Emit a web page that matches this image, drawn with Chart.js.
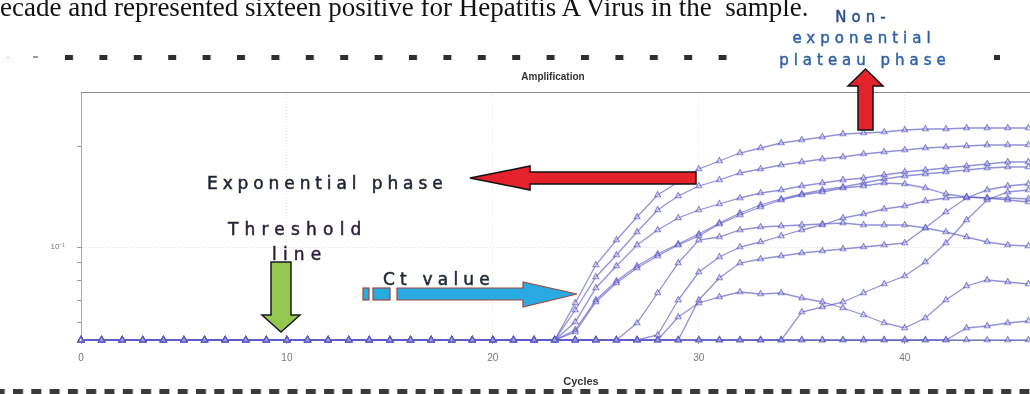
<!DOCTYPE html>
<html lang="en">
<head>
<meta charset="UTF-8">
<title>Amplification</title>
<style>
  html, body { margin: 0; padding: 0; background: #fff; overflow: hidden; }
  #wrap { position: relative; width: 1030px; height: 394px; overflow: hidden; }
  #chart { position: absolute; left: 0; top: 0; }
  #notes { position: absolute; left: 0; top: 0; pointer-events: none; }
  .note { font-family: "DejaVu Sans", sans-serif; }
</style>
</head>
<body>
<div id="wrap">
  <canvas id="chart" width="1054" height="394"></canvas>
  <svg id="notes" width="1030" height="394" viewBox="0 0 1030 394">
    <defs>
      <pattern id="dashTop" x="65" y="55" width="34.4" height="5" patternUnits="userSpaceOnUse">
        <rect width="8" height="5" fill="#2e2e2e"/>
      </pattern>
      <pattern id="dashBottom" x="13" y="389" width="18.3" height="5" patternUnits="userSpaceOnUse">
        <rect width="10" height="5" fill="#3a3a3a"/>
      </pattern>
    </defs>

    <!-- page text cut by the crop -->
    <text x="0" y="16" font-family="Liberation Serif, serif" font-size="27" fill="#111" style="white-space:pre">ecade and represented sixteen positive for Hepatitis A Virus in the  sample.</text>

    <!-- dashed crop lines -->
    <rect x="7" y="57" width="2" height="1" fill="#bbb"/>
    <rect x="33" y="56" width="5" height="2" fill="#999"/>
    <rect x="65" y="55" width="665" height="5" fill="url(#dashTop)"/>
    <rect x="994" y="55" width="6" height="5" fill="#2e2e2e"/>
    <rect x="0" y="389" width="1030" height="5" fill="url(#dashBottom)"/>

    <!-- exponential phase -->
    <polygon points="470,178 530,166 530,172 696,172 696,184 530,184 530,190" fill="#e4222b" stroke="#111" stroke-width="1.5" stroke-linejoin="miter"/>
    <text class="note" x="207" y="189" font-size="17" letter-spacing="4.9" fill="#1f2335" stroke="#1f2335" stroke-width="0.5">Exponential phase</text>

    <!-- plateau phase -->
    <polygon points="865.5,69 883,86 873,86 873,130 858,130 858,86 848,86" fill="#e4222b" stroke="#111" stroke-width="1.5"/>
    <text class="note" x="863" y="22" font-size="15" letter-spacing="5" text-anchor="middle" fill="#2d4f8a" stroke="#2d4f8a" stroke-width="0.45">Non-</text>
    <text class="note" x="864" y="43" font-size="15" letter-spacing="5" text-anchor="middle" fill="#2f62a8" stroke="#2f62a8" stroke-width="0.45">exponential</text>
    <text class="note" x="865" y="65" font-size="15" letter-spacing="5" text-anchor="middle" fill="#2f62a8" stroke="#2f62a8" stroke-width="0.45">plateau phase</text>

    <!-- threshold line -->
    <polygon points="271,262 291,262 291,315 300,315 281,332 262,315 271,315" fill="#92c84f" stroke="#1a1a1a" stroke-width="1.5"/>
    <text class="note" x="228" y="235" font-size="17" letter-spacing="6.2" fill="#2b1f38" stroke="#2b1f38" stroke-width="0.5">Threshold</text>
    <text class="note" x="272" y="260" font-size="17" letter-spacing="6.2" fill="#2b1f38" stroke="#2b1f38" stroke-width="0.5">line</text>

    <!-- Ct value -->
    <rect x="363" y="288" width="6" height="12" fill="#29abe2" stroke="#a0463c" stroke-width="1.2"/>
    <rect x="373" y="288" width="17" height="12" fill="#29abe2" stroke="#a0463c" stroke-width="1.2"/>
    <polygon points="397,288 523,288 523,282 577,294 523,307 523,300 397,300" fill="#29abe2" stroke="#a0463c" stroke-width="1.2"/>
    <text class="note" x="383" y="285" font-size="17" letter-spacing="5.2" fill="#222a35" stroke="#222a35" stroke-width="0.5">Ct value</text>
  </svg>
</div>

<script src="https://cdn.jsdelivr.net/npm/chart.js"></script>
<script>
  // RFU (arbitrary units above the baseline), one value per cycle
  // starting at the cycle where the curve leaves the baseline
  const lastCycle = 46;
  const baselineRfu = 0;

  const rfuA = [0, 37, 75, 100, 123, 145, 158, 171, 179, 187, 192, 197, 200, 203, 206, 207, 208, 210, 211, 211, 212, 212, 212, 212];
  const rfuB = [0, 30, 63, 85, 108, 130, 144, 154, 160, 167, 171, 175, 178, 181, 183, 186, 188, 190, 192, 193, 194, 195, 195, 195];
  const rfuC = [0, 18, 52, 74, 95, 110, 122, 130, 136, 142, 147, 150, 154, 157, 160, 162, 165, 168, 170, 172, 174, 176, 178, 178];
  const rfuD = [0, 8, 38, 57, 72, 84, 95, 104, 116, 125, 133, 140, 145, 148, 152, 154, 157, 156, 152, 146, 143, 142, 142, 141];
  const rfuE = [0, 10, 40, 59, 74, 86, 96, 106, 117, 127, 135, 141, 146, 150, 153, 157, 161, 164, 166, 168, 170, 172, 173, 173];
  const rfuF = [0, 17, 47, 77, 100, 103, 110, 113, 114, 115, 116, 117, 115, 115, 115, 112, 108, 103, 98, 95, 94];
  const rfuG = [0, 5, 40, 68, 83, 93, 98, 104, 110, 115, 122, 126, 131, 134, 139, 142, 143, 142, 140, 138];
  const rfuH = [0, 40, 62, 77, 81, 84, 87, 89, 91, 93, 95, 97, 112, 128, 142, 150, 154, 156];
  const rfuJ = [0, 23, 37, 43, 48, 46, 47, 42, 38, 32, 25, 17, 12, 22, 40, 54, 60, 58, 56];
  const rfuK = [0, 28, 33, 38, 47, 56, 64, 78, 97, 120, 140, 148, 150];
  const rfuL = [0, 12, 14, 17, 19];
  const rfuNeg = [];

  const samples = [rfuA, rfuB, rfuC, rfuD, rfuE, rfuF, rfuG, rfuH, rfuJ, rfuK, rfuL, rfuNeg];
  const riseCycle = [23, 23, 23, 23, 23, 26, 27, 29, 28, 34, 42, 47];

  const xTicks = [0, 10, 20, 30, 40];
  const yTicks = [18, 40, 60, 78, 93, 194];
  const yLabelled = 93;
  const yLabel = '10⁻¹';

  function seriesPoints(start, values) {
    const pts = [];
    for (let c = 0; c < start && c <= lastCycle; c++) pts.push({ x: c, y: baselineRfu });
    values.forEach((v, i) => pts.push({ x: start + i, y: v }));
    return pts;
  }

  const datasets = samples.map((vals, i) => ({
    data: seriesPoints(riseCycle[i], vals),
    borderColor: 'rgba(95,95,200,0.68)',
    borderWidth: 1.3,
    pointStyle: 'triangle',
    pointRadius: 3.4,
    pointBorderWidth: 1.1,
    pointBorderColor: 'rgba(85,85,195,0.7)',
    pointBackgroundColor: 'rgba(255,255,255,0.25)',
    tension: 0,
    clip: 6
  }));

  const frame = {
    id: 'frame',
    afterDraw(c) {
      const { ctx, chartArea: a } = c;
      ctx.save();
      ctx.strokeStyle = '#8a8a8a';
      ctx.lineWidth = 1.2;
      ctx.beginPath();
      ctx.moveTo(a.left, a.top + 0.5);
      ctx.lineTo(a.right, a.top + 0.5);
      ctx.stroke();
      ctx.fillStyle = '#333';
      ctx.textAlign = 'center';
      ctx.font = 'bold 10px "Liberation Sans", Arial, sans-serif';
      ctx.fillText('Amplification', 553, 80);
      ctx.font = 'bold 11px "Liberation Sans", Arial, sans-serif';
      ctx.fillText('Cycles', 581, 385);
      ctx.restore();
    }
  };

  new Chart(document.getElementById('chart'), {
    type: 'line',
    data: { datasets },
    options: {
      responsive: false,
      animation: false,
      layout: { padding: { top: 92, left: 0, right: 0, bottom: 0 } },
      plugins: { legend: { display: false }, tooltip: { enabled: false }, title: { display: false } },
      scales: {
        x: {
          type: 'linear',
          min: 0,
          max: 47,
          afterFit(s) { s.height = 54; },
          afterBuildTicks(s) { s.ticks = xTicks.map(v => ({ value: v })); },
          ticks: { font: { size: 10, family: 'Liberation Sans' }, color: '#777', padding: 8, maxRotation: 0 },
          grid: {
            color: ctx => ctx.tick && ctx.tick.value === 0 ? 'rgba(0,0,0,0)' : 'rgba(0,0,0,0.12)',
            tickColor: '#999',
            tickLength: 4
          },
          border: { color: '#999', dash: [1, 2] }
        },
        y: {
          min: 0,
          max: 248,
          afterFit(s) { s.width = 81; },
          afterBuildTicks(s) { s.ticks = yTicks.map(v => ({ value: v })); },
          ticks: {
            callback: v => v === yLabelled ? yLabel : '',
            font: { size: 8, family: 'Liberation Sans' },
            color: '#777',
            padding: 12
          },
          grid: {
            color: ctx => ctx.tick && ctx.tick.value === yLabelled ? 'rgba(0,0,0,0.12)' : 'rgba(0,0,0,0)',
            tickColor: '#999',
            tickLength: 4
          },
          border: { color: '#aaa', dash: [1, 2] }
        }
      }
    },
    plugins: [frame]
  });
</script>
</body>
</html>
